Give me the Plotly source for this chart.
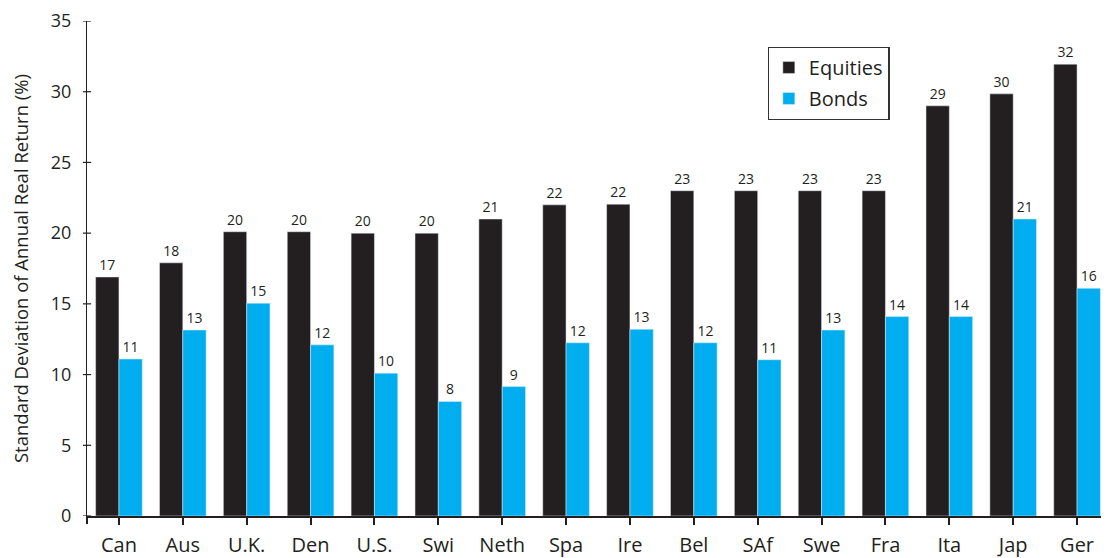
import plotly.graph_objects as go

countries = ['Can', 'Aus', 'U.K.', 'Den', 'U.S.', 'Swi', 'Neth', 'Spa', 'Ire',
             'Bel', 'SAf', 'Swe', 'Fra', 'Ita', 'Jap', 'Ger']
equities = [16.9, 17.9, 20.1, 20.1, 20.0, 20.0, 21.0, 22.0, 22.05,
            23.0, 23.0, 23.0, 23.0, 29.0, 29.85, 31.95]
bonds = [11.1, 13.15, 15.05, 12.1, 10.1, 8.1, 9.15, 12.25, 13.2,
         12.25, 11.05, 13.15, 14.1, 14.1, 21.0, 16.1]
y_ticks = [0, 5, 10, 15, 20, 25, 30, 35]

BLACK = '#231f20'
CYAN = '#00aeef'
FONT = 'Open Sans'

fig = go.Figure()
fig.add_trace(go.Bar(x=countries, y=equities, name='Equities',
                     marker_color=BLACK, legendgroup='e',
                     text=[str(round(v)) for v in equities],
                     textposition='outside', cliponaxis=False,
                     textfont=dict(family=FONT, size=14, color=BLACK)))
fig.add_trace(go.Bar(x=countries, y=bonds, name='Bonds',
                     marker_color=CYAN, legendgroup='b',
                     text=[str(round(v)) for v in bonds],
                     textposition='outside', cliponaxis=False,
                     textfont=dict(family=FONT, size=14, color=BLACK)))

# y ticks cross the axis line, drawn as short shapes
shapes = []
for t in y_ticks:
    shapes.append(dict(type='line', xref='paper', yref='y', x0=-0.004, x1=0.004,
                       y0=t, y1=t, line=dict(color=BLACK, width=1.2)))
# tick at the left end of the x axis
shapes.append(dict(type='line', xref='paper', yref='paper', x0=0, x1=0,
                   y0=0, y1=-0.016, line=dict(color=BLACK, width=2)))

# page body has an 8px margin, so the figure is offset by that much
fig.update_layout(
    width=1101, height=550,
    margin=dict(l=79, r=0, t=11, b=42),
    plot_bgcolor='white', paper_bgcolor='white',
    barmode='group', bargap=0.27, bargroupgap=0,
    font=dict(family=FONT, color=BLACK),
    shapes=shapes,
    xaxis=dict(
        range=[-0.5, 15.5],
        showline=True, linecolor=BLACK, linewidth=2,
        ticks='outside', ticklen=7, tickwidth=2, tickcolor=BLACK,
        showgrid=False, ticklabelstandoff=3,
        tickfont=dict(family=FONT, size=20, color=BLACK),
    ),
    yaxis=dict(
        range=[0, 35],
        tickvals=y_ticks,
        showline=True, linecolor=BLACK, linewidth=1.2,
        ticks='outside', ticklen=11, tickwidth=1, tickcolor='rgba(0,0,0,0)',
        showgrid=False, zeroline=False, ticklabeloverflow='allow',
        tickfont=dict(family=FONT, size=18, color=BLACK),
        title=dict(text='Standard Deviation of Annual Real Return (%)',
                   font=dict(family=FONT, size=18.5, color=BLACK), standoff=20),
    ),
    legend=dict(
        x=0.666, y=0.948, xanchor='left', yanchor='top',
        bgcolor='white', bordercolor='#333333', borderwidth=1.2,
        font=dict(family=FONT, size=20, color=BLACK),
        tracegroupgap=2, traceorder='grouped',
    ),
)

fig.write_html("out.html")
